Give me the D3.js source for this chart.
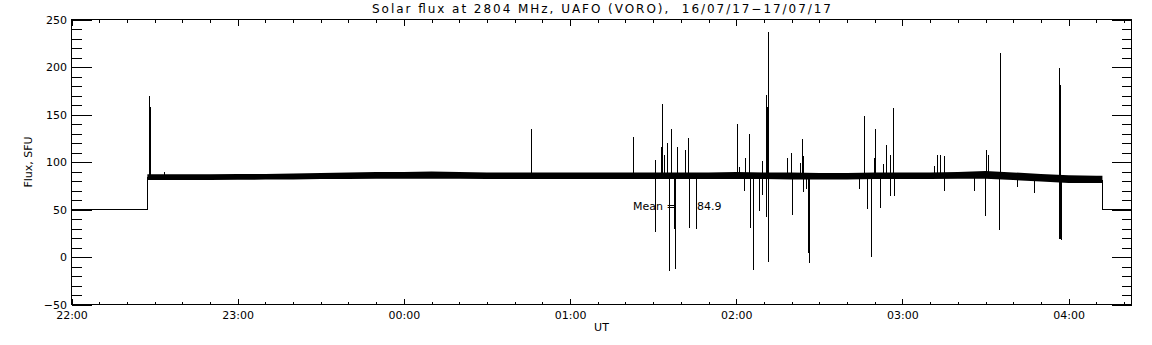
<!DOCTYPE html>
<html>
<head>
<meta charset="utf-8">
<script src="https://cdn.jsdelivr.net/npm/d3@7"></script>
<style>
	body { margin: 0; background: #fff; }
	svg { display: block; font-family: 'DejaVu Sans', sans-serif; }
	text { fill: #000; white-space: pre; }
</style>
</head>
<body>
<div id="chart"><svg></svg></div>
<script>
// times are minutes after 22:00 UT on 16/07/17
const titleText = 'Solar flux at 2804 MHz, UAFO (VORO),  16/07/17\u221217/07/17';
const yLabel = 'Flux, SFU';
const xLabel = 'UT';
const endMin = 382.7;

const yTicks = [-50, 0, 50, 100, 150, 200, 250];

// quiet level before the receiver came on and after it went off
const preMin = [0, 27.4, 27.4];
const preVal = [50, 50, 84];
const postMin = [372.2, 372.2, endMin];
const postVal = [81, 50, 50];

// envelope of the noisy flux band
const bandMin = [27.4, 30, 40, 50, 60, 70, 80, 90, 100, 110, 120, 130, 140, 150, 160, 170, 180, 190, 200,
	210, 220, 230, 240, 250, 260, 270, 280, 290, 300, 310, 320, 330, 340, 350, 360, 370, 372.2];
const bandLo = [81, 81, 81, 81, 81.3, 81.5, 81.5, 82, 82, 82.5, 82.5, 82.5, 82.3, 82, 82, 82, 82, 82, 82,
	82, 82, 82, 82, 82, 81.5, 81.5, 81.5, 82, 82, 82, 82.3, 82.5, 81, 79.5, 78, 78, 78];
const bandHi = [87, 87, 87, 87, 87.3, 87.5, 88, 88.5, 89, 89.5, 89.5, 90, 89.5, 89, 89, 89, 89, 89, 89,
	89, 89, 89, 89.5, 89, 89, 88.5, 88.5, 89, 89, 89, 89.5, 90.5, 89, 87.5, 86, 85.5, 85.5];

// bursts / interference spikes: time and extreme value
const spikeMin = [28.1, 28.4, 33.5,
	165.9, 202.8,
	210.6, 210.8, 213.0, 213.3, 213.8, 215.1, 215.6, 216.5, 217.7, 217.8, 218.5, 221.6, 222.7, 222.9, 225.3,
	240.4, 241.1, 242.9, 243.1, 244.5, 245.0, 246.1, 248.1, 249.2, 249.2, 250.8, 250.8, 251.0, 251.3, 251.6, 251.6,
	258.4, 259.9, 260.1, 263.1, 263.8, 264.2, 264.2, 265.3, 266.0, 266.2,
	284.4, 286.2, 287.1, 287.3, 288.7, 289.8, 290.1, 291.8, 292.9, 294.1, 295.6, 295.6, 296.7, 297.1,
	311.5, 312.6, 313.6, 315.1, 315.1, 326.0, 329.9, 330.3, 331.0, 334.7, 335.3, 341.4, 347.5,
	356.6, 356.8, 357.0, 356.6, 357.0, 357.3];
const spikeVal = [170, 158, 90,
	135, 126,
	26.5, 102, 116, 161.5, 107, 120, -14.4, 135, 30, -13, 116, 113, 125, 30.7, 29,
	140, 95, 70, 104.5, 129, 31, -13.7, 48.5, 100.6, 65, 171, 42, 158, 158, 236.7, -5.6,
	104, 110, 44.7, 99, 124, 106, 68, 72, 3.8, -6.4,
	72, 148, 52, 51, -0.5, 104, 135, 52, 98, 118, 107.6, 64, 157, 64,
	96, 107, 107, 106, 70, 69, 43.3, 113, 107.6, 28.6, 215, 74, 67,
	199, 181.4, 181, 18.8, 18.5, 18];
const spikeBase = 84;

const meanFlux = 84.9;
const meanAt = [202.7, 225.8];

const start = Date.UTC(2017, 6, 16, 22, 0);
const toDate = m => new Date(start + m * 60000);

const width = 1152;
const height = 345;
const margin = { top: 19.5, right: 20.5, bottom: 40.5, left: 71.5 };

const $svg = d3.select('#chart svg').attr('width', width).attr('height', height);

function setup() {
	const x = d3.scaleUtc()
		.domain([toDate(0), toDate(endMin)])
		.range([margin.left, width - margin.right]);
	const y = d3.scaleLinear()
		.domain([-50, 250])
		.range([height - margin.bottom, margin.top]);

	const x0 = margin.left;
	const x1 = width - margin.right;
	const y0 = height - margin.bottom;
	const y1 = margin.top;

	const $axes = $svg.append('g').attr('shape-rendering', 'crispEdges');

	// x axes: hours + 10 minute minors, ticks point inward
	const hours = d3.utcHour.every(1);
	const tenMin = d3.utcMinute.every(10);
	$axes.append('g').attr('transform', `translate(0,${y0})`)
		.call(d3.axisBottom(x).ticks(hours).tickFormat(d3.utcFormat('%H:%M')).tickSizeInner(-6).tickSizeOuter(0).tickPadding(7));
	$axes.append('g').attr('transform', `translate(0,${y0})`)
		.call(d3.axisBottom(x).ticks(tenMin).tickFormat('').tickSizeInner(-3).tickSizeOuter(0));
	$axes.append('g').attr('transform', `translate(0,${y1})`)
		.call(d3.axisTop(x).ticks(hours).tickFormat('').tickSizeInner(-6).tickSizeOuter(0));
	$axes.append('g').attr('transform', `translate(0,${y1})`)
		.call(d3.axisTop(x).ticks(tenMin).tickFormat('').tickSizeInner(-3).tickSizeOuter(0));

	// y axes
	const minorY = d3.range(-50, 251, 10);
	$axes.append('g').attr('transform', `translate(${x0},0)`)
		.call(d3.axisLeft(y).tickValues(yTicks).tickSizeInner(-20).tickSizeOuter(0).tickPadding(4.5));
	$axes.append('g').attr('transform', `translate(${x0},0)`)
		.call(d3.axisLeft(y).tickValues(minorY).tickFormat('').tickSizeInner(-10).tickSizeOuter(0));
	$axes.append('g').attr('transform', `translate(${x1},0)`)
		.call(d3.axisRight(y).tickValues(yTicks).tickFormat('').tickSizeInner(-20).tickSizeOuter(0));
	$axes.append('g').attr('transform', `translate(${x1},0)`)
		.call(d3.axisRight(y).tickValues(minorY).tickFormat('').tickSizeInner(-10).tickSizeOuter(0));

	$axes.selectAll('.domain').remove();
	$axes.selectAll('.tick line').attr('stroke', '#000');
	$axes.selectAll('.tick text').attr('font-size', 11).attr('font-family', 'DejaVu Sans').attr('fill', '#000');

	$axes.append('rect')
		.attr('x', x0).attr('y', y1)
		.attr('width', x1 - x0).attr('height', y0 - y1)
		.attr('fill', 'none').attr('stroke', '#000');

	// data
	const $plot = $svg.append('g');

	const step = (ms, vs) => d3.line()
		.x(i => x(toDate(ms[i])))
		.y(i => y(vs[i]))(d3.range(ms.length));
	$plot.selectAll('path.off')
		.data([[preMin, preVal], [postMin, postVal]])
		.join('path')
		.attr('class', 'off')
		.attr('d', d => step(d[0], d[1]))
		.attr('fill', 'none')
		.attr('stroke', '#000')
		.attr('shape-rendering', 'crispEdges');

	$plot.append('g')
		.attr('shape-rendering', 'crispEdges')
		.selectAll('line')
		.data(d3.range(spikeMin.length))
		.join('line')
		.attr('x1', i => Math.round(x(toDate(spikeMin[i]))) + 0.5)
		.attr('x2', i => Math.round(x(toDate(spikeMin[i]))) + 0.5)
		.attr('y1', y(spikeBase))
		.attr('y2', i => y(spikeVal[i]))
		.attr('stroke', '#000');

	const area = d3.area()
		.x(i => x(toDate(bandMin[i])))
		.y0(i => y(bandLo[i]))
		.y1(i => y(bandHi[i]));
	$plot.append('path')
		.attr('d', area(d3.range(bandMin.length)))
		.attr('fill', '#000');

	// labels
	$svg.append('text')
		.attr('x', x(toDate(meanAt[0])))
		.attr('y', y(50))
		.attr('font-size', 11)
		.text('Mean =');
	$svg.append('text')
		.attr('x', x(toDate(meanAt[1])))
		.attr('y', y(50))
		.attr('font-size', 11)
		.text(meanFlux.toFixed(1));

	$svg.append('text')
		.attr('x', (x0 + x1) / 2)
		.attr('y', 13)
		.attr('text-anchor', 'middle')
		.attr('font-size', 12)
		.attr('textLength', 459)
		.attr('lengthAdjust', 'spacing')
		.text(titleText);

	$svg.append('text')
		.attr('x', (x0 + x1) / 2)
		.attr('y', 331)
		.attr('text-anchor', 'middle')
		.attr('font-size', 11)
		.text(xLabel);

	$svg.append('text')
		.attr('transform', `translate(32,${(y0 + y1) / 2}) rotate(-90)`)
		.attr('text-anchor', 'middle')
		.attr('font-size', 11)
		.text(yLabel);
}

function init() {
	setup();
}

init();
</script>
</body>
</html>
